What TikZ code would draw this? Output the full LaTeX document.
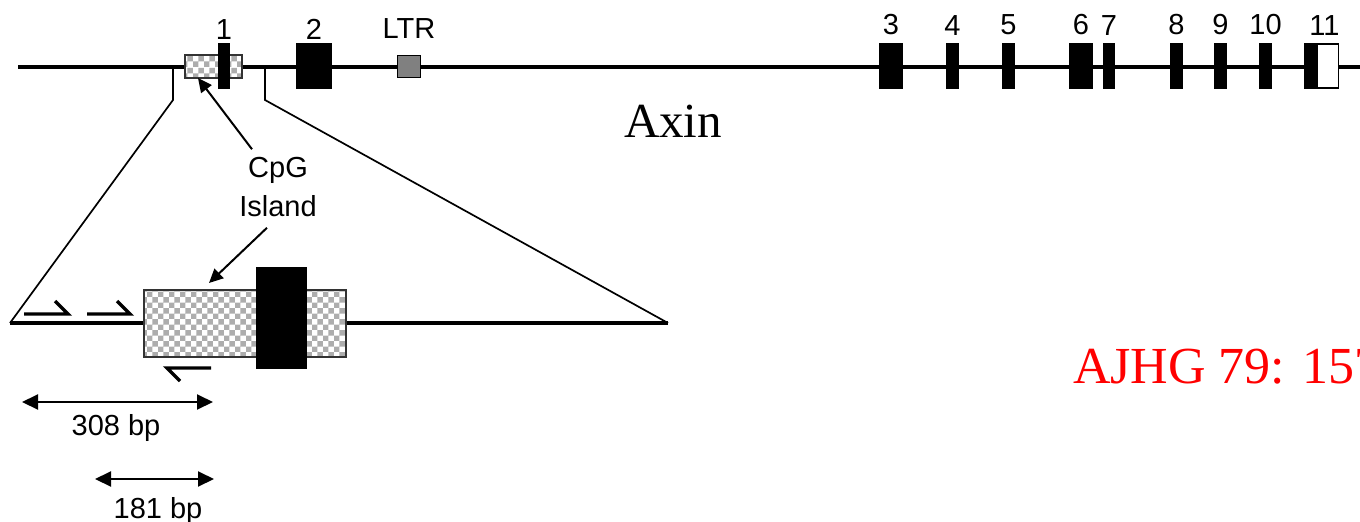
\documentclass[tikz,border=0pt]{standalone}
\usepackage{fontspec}
\setmainfont{Liberation Sans}
\newfontfamily\timesface{Liberation Serif}
\usepackage{xcolor}
\usepackage{tikz}
\usetikzlibrary{arrows.meta, positioning, calc, patterns}

\begin{document}
\begin{tikzpicture}[
      x=1pt, y=-1pt,
      every node/.style={inner sep=0pt, outer sep=0pt},
      exon/.style={rectangle, fill=black, minimum height=46pt},
      cpgbox/.style={rectangle, draw=black!80, line width=1.3pt, preaction={fill=white}, pattern=checkerboard, pattern color=black!32},
      gene/.style={line width=3.2pt},
      zoomline/.style={line width=1.7pt},
      primer/.style={line width=3.4pt},
      ptr/.style={line width=2pt, -{Triangle[length=14pt,width=13pt]}},
      dim/.style={line width=2pt, {Triangle[length=16pt,width=15pt]}-{Triangle[length=16pt,width=15pt]}},
      lbl/.style={font=\fontsize{29}{34}\selectfont}
    ]
      \useasboundingbox (0,0) rectangle (1360,522);
      \clip (0,0) rectangle (1360,522);

      % genomic line
      \coordinate (top-w) at (18,67);
      \coordinate (top-e) at (1362,67);
      \draw[gene] (top-w) -- (top-e);

      \node[cpgbox, minimum width=57pt, minimum height=23pt] (cpg1) at (213.5,66.5) {};
      \node[exon, minimum width=12pt] (e1) at (224,66) {};
      \node[exon, minimum width=36pt] (e2) at (314,66) {};
      \node[rectangle, draw=black, line width=1.3pt, fill=black!50, minimum width=23pt, minimum height=22pt] (ltr) at (409,66.5) {};

      \foreach \n/\cx/\w in {3/891/24, 4/952.5/13, 5/1008.5/13, 6/1081/24, 7/1109/12,
                             8/1176.5/13, 9/1220.5/13, 10/1265.5/13} {
        \node[exon, minimum width=\w pt] (e\n) at (\cx,66) {};
        \node[lbl, above=8pt of e\n] {\n};
      }
      \node[exon, minimum width=13pt] (e11) at (1310.5,66) {};
      \node[rectangle, draw=black, line width=1.6pt, fill=white, minimum width=21pt, minimum height=44pt] (utr) at (1328,66) {};
      \node[lbl, above=8pt of e11, xshift=14pt] (l11) {11};

      \node[lbl, above=4pt of e1] (l1) {1};
      \node[lbl, above=4pt of e2] (l2) {2};
      \node[lbl, above=17pt of ltr] (lltr) {LTR};

      \node[font=\timesface\fontsize{49}{55}\selectfont, anchor=base] (axin) at (673,137) {Axin};

      % zoomed region
      \coordinate (zl-top) at (173,67);
      \coordinate (zl) at (173,100);
      \coordinate (zr-top) at (265,67);
      \coordinate (zr) at (265,100);
      \coordinate (lo-w) at (10,323);
      \coordinate (lo-e) at (668,323);
      \draw[zoomline] (zl-top) -- (zl) -- (lo-w);
      \draw[zoomline] (zr-top) -- (zr) -- (lo-e);
      \draw[gene] (lo-w) -- (lo-e);

      \node[cpgbox, minimum width=202pt, minimum height=67pt] (cpg2) at (245,323.5) {};
      \node[exon, minimum width=51pt, minimum height=102pt] (ex1) at (281.5,318) {};

      \node[lbl, align=center, font=\fontsize{29}{39}\selectfont] (cpglbl) at (278,187) {CpG\\Island};
      \draw[ptr] ($(cpglbl.north)+(-26,-8)$) -- ($(cpg1.south west)+(13,0)$);
      \draw[ptr] ($(cpglbl.south)+(-11,11)$) -- ($(cpg2.north west)+(65,-7)$);

      % primers
      \coordinate (f1a) at (24,314);  \coordinate (f1b) at (68,314);  \coordinate (f1c) at (55,301);
      \coordinate (f2a) at (87,314);  \coordinate (f2b) at (130,314); \coordinate (f2c) at (117,301);
      \coordinate (r1a) at (211,368); \coordinate (r1b) at (167,368); \coordinate (r1c) at (180,381);
      \draw[primer] (f1a) -- (f1b) -- (f1c);
      \draw[primer] (f2a) -- (f2b) -- (f2c);
      \draw[primer] (r1a) -- (r1b) -- (r1c);

      % product sizes
      \coordinate (d1w) at (22,402);  \coordinate (d1e) at (213,402);
      \coordinate (d2w) at (95,479);  \coordinate (d2e) at (214,479);
      \draw[dim] (d1w) -- (d1e);
      \draw[dim] (d2w) -- (d2e);
      \node[lbl, anchor=base] (bp308) at (116,435) {308 bp};
      \node[lbl, anchor=base] (bp181) at (158,518) {181 bp};

      \node[font=\timesface\fontsize{52}{58}\selectfont, text=red, anchor=base west] (ref) at (1073,383) {AJHG 79: 157};
    \end{tikzpicture}
\end{document}
